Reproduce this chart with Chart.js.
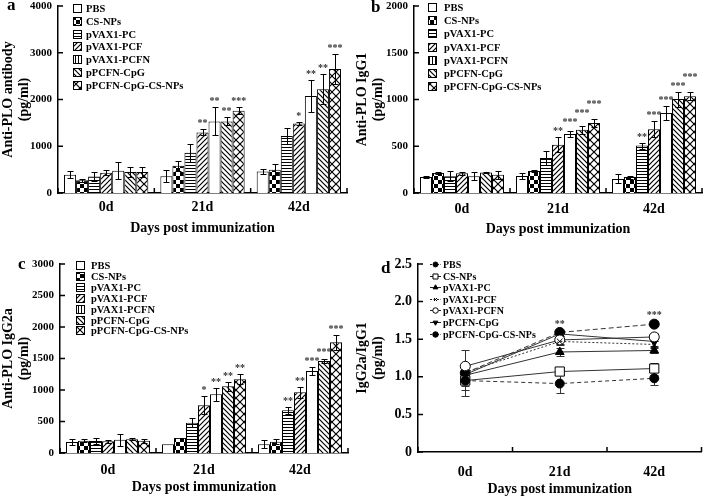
<!DOCTYPE html>
<html>
<head>
<meta charset="utf-8">
<script src="https://cdn.jsdelivr.net/npm/chart.js@4.4.1/dist/chart.umd.min.js"></script>
<style>
  body { margin: 0; background: #fff; }
  #wrap { position: relative; width: 709px; height: 499px; }
  canvas { position: absolute; }
</style>
</head>
<body>
<div id="wrap">
  <canvas id="chartA" width="354" height="249" style="left:0;top:0"></canvas>
  <canvas id="chartB" width="355" height="249" style="left:354px;top:0"></canvas>
  <canvas id="chartC" width="354" height="249" style="left:0;top:250px"></canvas>
  <canvas id="chartD" width="355" height="249" style="left:354px;top:250px"></canvas>
</div>
<script>
var days = ['0d', '21d', '42d'];
var groupNames = ['PBS', 'CS-NPs', 'pVAX1-PC', 'pVAX1-PCF', 'pVAX1-PCFN', 'pPCFN-CpG', 'pPCFN-CpG-CS-NPs'];
var noStars = [];

// a - total anti-PLO antibody (pg/ml), one value per group
var totalD0 = [390, 275, 355, 435, 475, 450, 450];
var totalD21 = [360, 585, 860, 1295, 1530, 1530, 1760];
var totalD42 = [458, 500, 1220, 1485, 2075, 2220, 2655];
var totalErrD0 = [70, 30, 100, 50, 180, 115, 115];
var totalErrD21 = [125, 105, 195, 65, 300, 85, 75];
var totalErrD42 = [60, 110, 180, 25, 335, 315, 325];
var totalStarsD21 = ['', '', '', '**', '**', '**', '***'];
var totalStarsD42 = ['', '', '', '*', '**', '**', '***'];

// b - IgG1
var igg1D0 = [170, 215, 180, 210, 180, 220, 195];
var igg1D21 = [182, 235, 374, 517, 631, 677, 749];
var igg1D42 = [150, 171, 507, 681, 856, 1005, 1034];
var igg1ErrD0 = [10, 10, 55, 15, 45, 5, 40];
var igg1ErrD21 = [30, 10, 70, 78, 27, 43, 45];
var igg1ErrD42 = [48, 16, 32, 87, 71, 80, 41];
var igg1StarsD21 = ['', '', '', '**', '***', '***', '***'];
var igg1StarsD42 = ['', '', '**', '***', '***', '***', '***'];

// c - IgG2a
var igg2aD0 = [175, 195, 190, 185, 210, 220, 195];
var igg2aD21 = [140, 240, 481, 757, 932, 1058, 1170];
var igg2aD42 = [140, 180, 677, 963, 1302, 1460, 1757];
var igg2aErrD0 = [50, 20, 45, 20, 95, 15, 35];
var igg2aErrD21 = [0, 0, 71, 140, 103, 74, 79];
var igg2aErrD42 = [60, 40, 53, 87, 63, 30, 116];
var igg2aStarsD21 = ['', '', '', '*', '**', '**', '**'];
var igg2aStarsD42 = ['', '', '**', '**', '***', '***', '***'];

// d - IgG2a/IgG1 ratio
var ratioD0 = [0.95, 0.95, 1.02, 1.06, 1.14, 1.03, 1.05];
var ratioD21 = [0.91, 1.07, 1.33, 1.47, 1.49, 1.57, 1.59];
var ratioD42 = [0.98, 1.11, 1.35, 1.43, 1.53, 1.47, 1.70];
var ratioErrD0 = [0.2, 0.12, 0.06, 0.05, 0.22, 0.15, 0.08];
var ratioErrD21 = [0.13, 0.05, 0.05, 0.05, 0.05, 0.03, 0.02];
var ratioErrD42 = [0.09, 0.08, 0.04, 0.05, 0.05, 0.06, 0.03];
var ratioStars = ['', '**', '***'];

Chart.defaults.font.family = '"Liberation Serif", "Times New Roman", serif';
Chart.defaults.font.weight = 'bold';
Chart.defaults.color = '#000';

function hatch(kind) {
    var s = {checker: 8, hline: 3, vline: 3, fwd: 5, back: 5, cross: 8}[kind];
    var c = document.createElement('canvas');
    c.width = c.height = s;
    var g = c.getContext('2d');
    g.fillStyle = '#fff';
    g.fillRect(0, 0, s, s);
    g.fillStyle = g.strokeStyle = '#000';
    g.lineWidth = 1.2;
    if (kind == 'checker') { g.fillRect(0, 0, s / 2, s / 2); g.fillRect(s / 2, s / 2, s / 2, s / 2); }
    if (kind == 'hline') g.fillRect(0, 0, s, 1);
    if (kind == 'vline') g.fillRect(0, 0, 1, s);
    if (kind == 'fwd' || kind == 'cross') {
        g.beginPath();
        g.moveTo(-1, s + 1); g.lineTo(s + 1, -1);
        g.moveTo(-1, 1); g.lineTo(1, -1);
        g.moveTo(s - 1, s + 1); g.lineTo(s + 1, s - 1);
        g.stroke();
    }
    if (kind == 'back' || kind == 'cross') {
        g.beginPath();
        g.moveTo(-1, -1); g.lineTo(s + 1, s + 1);
        g.moveTo(s - 1, -1); g.lineTo(s + 1, 1);
        g.moveTo(-1, s - 1); g.lineTo(1, s + 1);
        g.stroke();
    }
    return g.createPattern(c, 'repeat');
}

var fills = ['#fff', hatch('checker'), hatch('hline'), hatch('fwd'), '#fff', hatch('back'), hatch('cross')];
var legendFills = ['#fff', hatch('checker'), hatch('hline'), hatch('fwd'), hatch('vline'), hatch('back'), hatch('cross')];

// line look for panel d
var lineLook = [
    {dash: [4, 3], point: 'circle', r: 4.5, fill: '#000', rot: 0},
    {dash: [], point: 'rect', r: 6.5, fill: '#fff', rot: 0},
    {dash: [], point: 'triangle', r: 5, fill: '#000', rot: 0},
    {dash: [2, 2], point: 'crossRot', r: 4, fill: '#000', rot: 0},
    {dash: [], point: 'circle', r: 5, fill: '#fff', rot: 0},
    {dash: [], point: 'triangle', r: 5, fill: '#000', rot: 180},
    {dash: [5, 3], point: 'circle', r: 5, fill: '#000', rot: 0}
];

function byGroup(d0, d21, d42) {
    return groupNames.map(function (n, i) { return [d0[i], d21[i], d42[i]]; });
}

function drawErrors(chart, o) {
    var ctx = chart.ctx, y = chart.scales.y;
    ctx.save();
    ctx.strokeStyle = o.errColor;
    ctx.lineWidth = 1;
    chart.data.datasets.forEach(function (ds, i) {
        chart.getDatasetMeta(i).data.forEach(function (el, j) {
            var e = o.errors[i][j];
            if (!e) return;
            var v = ds.data[j];
            var top = Math.round(y.getPixelForValue(v + e)) + 0.5;
            var bot = Math.round(y.getPixelForValue(v - e)) + 0.5;
            var x = Math.round(el.x) + 0.5;
            ctx.beginPath();
            ctx.moveTo(x, top); ctx.lineTo(x, bot);
            ctx.moveTo(x - o.cap, top); ctx.lineTo(x + o.cap, top);
            ctx.moveTo(x - o.cap, bot); ctx.lineTo(x + o.cap, bot);
            ctx.stroke();
        });
    });
    ctx.restore();
}

function drawStars(chart, o) {
    var ctx = chart.ctx, y = chart.scales.y;
    ctx.save();
    ctx.font = 'bold 10px "Liberation Serif"';
    ctx.fillStyle = '#333';
    ctx.textAlign = 'center';
    ctx.textBaseline = 'alphabetic';
    if (o.stars) {
        for (var j = 0; j < chart.data.labels.length; j++) {
            var last = null;
            chart.data.datasets.forEach(function (ds, i) {
                var s = o.stars[j][i];
                if (!s) return;
                var el = chart.getDatasetMeta(i).data[j];
                var w = ctx.measureText(s).width;
                var by = y.getPixelForValue(ds.data[j] + o.errors[i][j]) + o.starLift;
                // lift a label that would run into its left neighbour
                if (last && el.x - w / 2 < last.right + 1 && Math.abs(by - last.y) < 8) by = last.y - 9;
                ctx.fillText(s, el.x, by);
                last = {right: el.x + w / 2, y: by};
            });
        }
    }
    if (o.groupStars) {
        o.groupStars.forEach(function (s, j) {
            if (!s) return;
            var top = Infinity;
            chart.data.datasets.forEach(function (ds, i) {
                top = Math.min(top, y.getPixelForValue(ds.data[j] + o.errors[i][j]));
            });
            ctx.fillText(s, chart.getDatasetMeta(0).data[j].x, top + o.starLift);
        });
    }
    ctx.restore();
}

function drawInnerTicks(chart) {
    var ctx = chart.ctx, a = chart.chartArea, x = chart.scales.x, y = chart.scales.y;
    ctx.save();
    ctx.strokeStyle = '#000';
    ctx.lineWidth = 1.5;
    ctx.beginPath();
    y.ticks.forEach(function (t, k) {
        var py = y.getPixelForTick(k);
        ctx.moveTo(a.left, py); ctx.lineTo(a.left + 5, py);
    });
    for (var k = 0; k <= x.ticks.length; k++) {
        var px = x.getPixelForValue(k - 0.5);
        ctx.moveTo(px, a.bottom); ctx.lineTo(px, a.bottom - 5);
    }
    ctx.stroke();
    ctx.restore();
}

function drawLegend(chart, o) {
    var L = o.legend, ctx = chart.ctx, a = chart.chartArea;
    ctx.save();
    ctx.font = 'bold ' + L.size + 'px "Liberation Serif"';
    ctx.textBaseline = 'middle';
    ctx.textAlign = 'left';
    chart.data.datasets.forEach(function (ds, i) {
        var cy = Math.round(a.top + L.top + i * L.step);
        var ix = Math.round(a.left + L.icon);
        if (chart.config.type == 'bar') {
            ctx.fillStyle = legendFills[i];
            ctx.fillRect(ix, cy - 4, 8, 8);
            ctx.strokeStyle = '#000';
            ctx.lineWidth = 1;
            ctx.strokeRect(ix + 0.5, cy - 3.5, 8, 8);
        } else {
            var lk = lineLook[i];
            ctx.strokeStyle = '#222';
            ctx.lineWidth = 1;
            ctx.setLineDash(lk.dash.length ? [2, 1.5] : []);
            ctx.beginPath();
            ctx.moveTo(ix, cy + 0.5); ctx.lineTo(ix + 11, cy + 0.5);
            ctx.stroke();
            ctx.setLineDash([]);
            ctx.fillStyle = lk.fill;
            ctx.strokeStyle = '#000';
            Chart.helpers.drawPoint(ctx, {pointStyle: lk.point, radius: lk.r * 0.55, rotation: lk.rot, borderWidth: 1}, ix + 5.5, cy + 0.5);
        }
        ctx.fillStyle = '#000';
        ctx.fillText(ds.label, a.left + L.text, cy + 1);
    });
    ctx.restore();
}

var extras = {
    id: 'extras',
    beforeDatasetsDraw: function (chart, args, o) {
        if (o.errorsUnder) drawErrors(chart, o);
    },
    afterDatasetsDraw: function (chart, args, o) {
        if (!o.errorsUnder) drawErrors(chart, o);
        drawStars(chart, o);
    },
    afterDraw: function (chart, args, o) {
        drawInnerTicks(chart);
        drawLegend(chart, o);
        var ctx = chart.ctx;
        ctx.save();
        ctx.font = 'bold 17px "Liberation Serif"';
        ctx.fillStyle = '#000';
        ctx.textBaseline = 'alphabetic';
        ctx.fillText(o.letter[0], o.letter[1], o.letter[2]);
        ctx.restore();
    }
};

function axes(cfg) {
    return {
        x: {
            offset: true,
            grid: {display: false, drawTicks: false},
            border: {color: '#000', width: 1.5},
            ticks: {font: {size: 14}, padding: cfg.xPad},
            title: {display: true, text: 'Days post immunization', font: {size: 14}, padding: {top: 0, bottom: cfg.titlePad}},
            afterFit: function (s) { s.height = cfg.xHeight; s.paddingLeft = 0; s.paddingRight = 0; }
        },
        y: {
            min: 0, max: cfg.max,
            grid: {display: false, drawTicks: false},
            border: {color: '#000', width: 1.5},
            ticks: {stepSize: cfg.step, font: {size: cfg.tickSize}, padding: 6, callback: cfg.fmt},
            title: {display: true, text: cfg.yTitle, font: {size: 14, lineHeight: 1.15}, padding: {top: cfg.yTitlePad, bottom: 0}},
            afterFit: function (s) { s.width = cfg.yWidth; s.paddingTop = 0; s.paddingBottom = 0; }
        }
    };
}

function plainNumber(v) { return String(v); }

function barChart(id, cfg) {
    var values = byGroup(cfg.d0, cfg.d21, cfg.d42);
    new Chart(document.getElementById(id), {
        type: 'bar',
        data: {
            labels: days,
            datasets: groupNames.map(function (n, i) {
                return {label: n, data: values[i], backgroundColor: fills[i], borderColor: '#000', borderWidth: 1};
            })
        },
        options: {
            responsive: false,
            animation: false,
            events: [],
            layout: {padding: cfg.pad},
            datasets: {bar: {categoryPercentage: 0.875, barPercentage: 1}},
            plugins: {
                legend: {display: false},
                tooltip: {enabled: false},
                extras: {
                    errors: byGroup(cfg.e0, cfg.e21, cfg.e42),
                    errColor: '#000', cap: 3,
                    stars: [noStars, cfg.s21, cfg.s42], starLift: -3,
                    legend: cfg.legend,
                    letter: cfg.letter
                }
            },
            scales: axes(cfg)
        },
        plugins: [extras]
    });
}

barChart('chartA', {
    d0: totalD0, d21: totalD21, d42: totalD42,
    e0: totalErrD0, e21: totalErrD21, e42: totalErrD42,
    s21: totalStarsD21, s42: totalStarsD42,
    max: 4000, step: 1000, tickSize: 11, fmt: plainNumber,
    yTitle: ['Anti-PLO antibody', '(pg/ml)'], yTitlePad: 0, yWidth: 58,
    xHeight: 56, xPad: 5.6, titlePad: 12.6,
    pad: {left: 0, top: 6, right: 7, bottom: 0},
    legend: {icon: 15, text: 28, top: 1.7, step: 12.9, size: 10.5},
    letter: ['a', 7, 10]
});

barChart('chartB', {
    d0: igg1D0, d21: igg1D21, d42: igg1D42,
    e0: igg1ErrD0, e21: igg1ErrD21, e42: igg1ErrD42,
    s21: igg1StarsD21, s42: igg1StarsD42,
    max: 2000, step: 500, tickSize: 11, fmt: plainNumber,
    yTitle: ['Anti-PLO IgG1', '(pg/ml)'], yTitlePad: 0.6, yWidth: 60,
    xHeight: 56, xPad: 7.6, titlePad: 11.6,
    pad: {left: 0, top: 6, right: 7, bottom: 0},
    legend: {icon: 14, text: 30, top: 1, step: 13.2, size: 10.5},
    letter: ['b', 17, 12]
});

barChart('chartC', {
    d0: igg2aD0, d21: igg2aD21, d42: igg2aD42,
    e0: igg2aErrD0, e21: igg2aErrD21, e42: igg2aErrD42,
    s21: igg2aStarsD21, s42: igg2aStarsD42,
    max: 3000, step: 500, tickSize: 11, fmt: plainNumber,
    yTitle: ['Anti-PLO IgG2a', '(pg/ml)'], yTitlePad: 0, yWidth: 60,
    xHeight: 46, xPad: 9, titlePad: 3.6,
    pad: {left: 0, top: 14, right: 6, bottom: 0},
    legend: {icon: 16, text: 31, top: 1, step: 10.9, size: 10.5},
    letter: ['c', 18, 19]
});

// d - line chart of the ratio
var ratioValues = byGroup(ratioD0, ratioD21, ratioD42);
var ratioAxes = axes({
    max: 2.5, step: 0.5, tickSize: 14,
    fmt: function (v) { return v === 0 ? '0' : v.toFixed(1); },
    yTitle: ['IgG2a/IgG1', '(pg/ml)'], yTitlePad: 0.6, yWidth: 64,
    xHeight: 47, xPad: 11.6, titlePad: 1.6
});
new Chart(document.getElementById('chartD'), {
    type: 'line',
    data: {
        labels: days,
        datasets: groupNames.map(function (n, i) {
            var lk = lineLook[i];
            return {
                label: n, data: ratioValues[i],
                borderColor: '#333', borderWidth: 1, borderDash: lk.dash,
                pointStyle: lk.point, pointRadius: lk.r, pointRotation: lk.rot,
                pointBackgroundColor: lk.fill, pointBorderColor: '#000', pointBorderWidth: 1,
                tension: 0, fill: false
            };
        })
    },
    options: {
        responsive: false,
        animation: false,
        events: [],
        layout: {padding: {left: 0, top: 14, right: 3, bottom: 0}},
        plugins: {
            legend: {display: false},
            tooltip: {enabled: false},
            extras: {
                errors: byGroup(ratioErrD0, ratioErrD21, ratioErrD42),
                errColor: '#333', cap: 4, errorsUnder: true,
                groupStars: ratioStars, starLift: -4,
                legend: {icon: 12, text: 25, top: 0, step: 11.6, size: 10},
                letter: ['d', 27, 23]
            }
        },
        scales: ratioAxes
    },
    plugins: [extras]
});
</script>
</body>
</html>
